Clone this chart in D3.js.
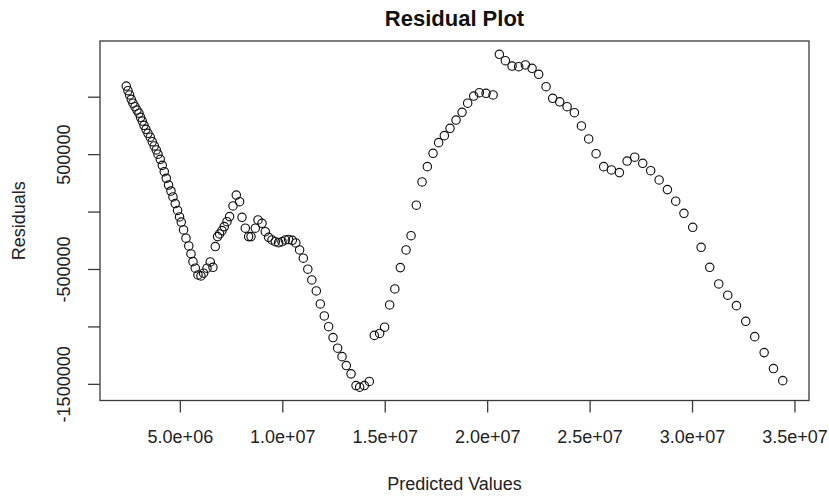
<!DOCTYPE html>
<html><head><meta charset="utf-8">
<script src="https://cdn.jsdelivr.net/npm/d3@7"></script>
<style>body{margin:0;background:#fff} svg{display:block}</style>
</head><body><svg id="c" width="829" height="497"></svg>
<script>
const predicted = [
 2383000,2466000,2544000,2627000,2710000,2808000,2905000,3003000,3081000,3164000,
 3247000,3345000,3442000,3555000,3652000,3750000,3848000,3931000,4043000,4141000,
 4238000,4336000,4448000,4565000,4663000,4775000,4888000,4985000,5068000,5181000,
 5298000,5435000,5542000,5640000,5752000,5884000,6030000,6157000,6323000,6484000,
 6616000,6729000,6841000,6939000,7056000,7168000,7300000,7427000,7593000,7754000,
 7915000,8032000,8194000,8355000,8472000,8682000,8813000,9009000,9170000,9331000,
 9497000,9658000,9819000,9985000,10147000,10308000,10488000,10659000,10845000,11026000,
 11245000,11440000,11660000,11856000,12051000,12261000,12476000,12700000,12915000,13125000,
 13355000,13599000,13775000,14004000,14248000,14492000,14751000,14995000,15239000,15493000,
 15761000,16040000,16284000,16543000,16821000,17080000,17358000,17632000,17910000,18188000,
 18481000,18774000,19048000,19341000,19619000,19946000,20288000,20596000,20889000,21216000,
 21538000,21865000,22192000,22515000,22876000,23198000,23540000,23901000,24258000,24600000,
 24956000,25317000,25689000,26064000,26455000,26831000,27202000,27593000,27983000,28394000,
 28799000,29204000,29605000,30034000,30444000,30864000,31304000,31743000,32168000,32622000,
 33061000,33521000,33975000,34428000
];
const residuals = [
 1093000,1052000,1015000,977000,943000,913000,884000,856000,821000,788000,
 751000,716000,681000,647000,608000,571000,536000,499000,455000,403000,
 347000,290000,231000,179000,127000,70000,10000,-47000,-91000,-160000,
 -232000,-299000,-369000,-436000,-493000,-552000,-560000,-537000,-493000,-439000,
 -485000,-305000,-218000,-195000,-166000,-131000,-88000,-44000,49000,144000,
 86000,-50000,-145000,-218000,-218000,-145000,-73000,-102000,-175000,-224000,
 -247000,-262000,-271000,-262000,-247000,-243000,-250000,-273000,-334000,-406000,
 -502000,-595000,-691000,-804000,-909000,-1002000,-1097000,-1190000,-1263000,-1341000,
 -1413000,-1515000,-1529000,-1515000,-1479000,-1078000,-1061000,-1007000,-813000,-674000,
 -488000,-334000,-210000,55000,258000,391000,507000,600000,661000,725000,
 797000,864000,943000,1006000,1035000,1030000,1015000,1369000,1313000,1267000,
 1261000,1276000,1247000,1195000,1087000,986000,956000,913000,861000,745000,
 632000,504000,391000,362000,339000,440000,473000,420000,356000,275000,
 191000,90000,-15000,-137000,-311000,-485000,-630000,-728000,-819000,-955000,
 -1089000,-1228000,-1367000,-1472000
];
const xTicks = [5e6, 1e7, 1.5e7, 2e7, 2.5e7, 3e7, 3.5e7];
const yTicks = [-1.5e6, -1e6, -5e5, 0, 5e5, 1e6];
const yTickLabels = ["-1500000", "", "-500000", "", "500000", ""];
const title = "Residual Plot";
const xTitle = "Predicted Values";
const yTitle = "Residuals";

const L = 100, R = 809, T = 41, B = 400.5;
const font = "'Liberation Sans', Arial, Helvetica, sans-serif";
const svg = d3.select("#c");

function pad(ext) { const d = (ext[1] - ext[0]) * 0.04; return [ext[0] - d, ext[1] + d]; }
const x = d3.scaleLinear().domain(pad(d3.extent(predicted))).range([L, R]);
const y = d3.scaleLinear().domain(pad(d3.extent(residuals))).range([B, T]);

function sci(v) {
  const s = d3.format(".1e")(v);
  return s.replace(/e([+-])(\d)$/, "e$10$2");
}

// box
svg.append("rect").attr("x", L).attr("y", T).attr("width", R - L).attr("height", B - T)
  .attr("fill", "none").attr("stroke", "#3a3a3a").attr("stroke-width", 1.3);

// x axis
const xa = svg.append("g").attr("transform", `translate(0,${B})`)
  .call(d3.axisBottom(x).tickValues(xTicks).tickSize(12).tickPadding(18).tickFormat(sci));
xa.select(".domain").remove();
xa.selectAll("line").attr("stroke", "#3a3a3a").attr("stroke-width", 1.3);
xa.selectAll("text").attr("font-family", font).attr("font-size", 18).attr("fill", "#222");

// y axis
const ya = svg.append("g").attr("transform", `translate(${L},0)`)
  .call(d3.axisLeft(y).tickValues(yTicks).tickSize(12).tickFormat((d, i) => yTickLabels[i]));
ya.select(".domain").remove();
ya.selectAll("line").attr("stroke", "#3a3a3a").attr("stroke-width", 1.3);
ya.selectAll("text").attr("font-family", font).attr("font-size", 18).attr("fill", "#222")
  .attr("text-anchor", "middle").attr("x", null)
  .attr("transform", "translate(-36,0) rotate(-90)").attr("dy", "0.35em");

// points
svg.append("g").selectAll("circle").data(predicted).join("circle")
  .attr("cx", d => x(d)).attr("cy", (d, i) => y(residuals[i])).attr("r", 4.2)
  .attr("fill", "none").attr("stroke", "#111").attr("stroke-width", 1.15);

// titles
svg.append("text").attr("x", (L + R) / 2).attr("y", 26).attr("text-anchor", "middle")
  .attr("font-family", font).attr("font-weight", "bold").attr("font-size", 22).attr("fill", "#111").text(title);
svg.append("text").attr("x", (L + R) / 2).attr("y", 490).attr("text-anchor", "middle")
  .attr("font-family", font).attr("font-size", 18).attr("fill", "#222").text(xTitle);
svg.append("text").attr("transform", `translate(25,${(T + B) / 2}) rotate(-90)`).attr("text-anchor", "middle")
  .attr("font-family", font).attr("font-size", 18).attr("fill", "#222").text(yTitle);
</script></body></html>
